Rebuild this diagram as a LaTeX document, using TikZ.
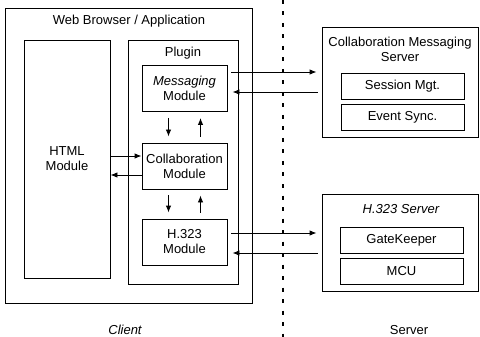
\documentclass[tikz,border=0pt]{standalone}
\usepackage{fontspec}
\setmainfont{Liberation Sans}
\usetikzlibrary{arrows,arrows.meta,calc}
\tikzset{
    block/.style = {draw, rectangle, line width=0.9pt, inner sep=0pt, align=center},
    module/.style = {block, minimum width=85pt, minimum height=46pt},
    part/.style = {block, minimum width=123pt, minimum height=26pt},
    heading/.style = {inner sep=0pt, align=center},
    arrow/.style = {draw, ->, line width=0.9pt},
    link/.style = {arrow, shorten >=5pt, shorten <=4pt},
    vlink/.style = {arrow, shorten >=6pt, shorten <=6pt},
    divider/.style = {draw, line width=1.1pt, dash pattern=on 4pt off 7.5pt}
}

\begin{document}
\begin{tikzpicture}[x=1pt, y=-1pt, >={Latex[length=7pt,width=5.5pt]}, every node/.style={font=\fontsize{13}{15}\selectfont}]
        \useasboundingbox (0,0) rectangle (480,337);
        \node [block, minimum width=247pt, minimum height=295pt] (browser) at (128.5,155.5) {};
        \node [heading] (browsertitle) at (129,21) {Web Browser / Application};
        \node [block, minimum width=86pt, minimum height=238pt] (html) at (67,159) {HTML\\Module};
        \node [block, minimum width=110pt, minimum height=244pt] (plugin) at (183,162) {};
        \node [heading] (plugintitle) at (183,53) {Plugin};
        \node [module] (msg) at (184.5,88.5) {{\itshape Messaging}\\Module};
        \node [module, below of=msg, node distance=77.5pt] (collab) {Collaboration\\Module};
        \node [module, below of=collab, node distance=76pt] (h323mod) {H.323\\Module};
        \draw [arrow] (html.east |- 0,156) -- (collab.west |- 0,156);
        \draw [arrow] (collab.west |- 0,175) -- (html.east |- 0,175);
        \draw [vlink] ([xshift=-16pt]msg.south) -- ([xshift=-16pt]collab.north);
        \draw [vlink] ([xshift=16pt]collab.north) -- ([xshift=16pt]msg.south);
        \draw [vlink] ([xshift=-16pt]collab.south) -- ([xshift=-16pt]h323mod.north);
        \draw [vlink] ([xshift=16pt]h323mod.north) -- ([xshift=16pt]collab.south);
        \node [block, minimum width=156pt, minimum height=110pt] (cms) at (400,82) {};
        \node [heading] (cmstitle) at (400,49.5) {Collaboration Messaging\\Server};
        \node [part] (session) at (402.5,86) {Session Mgt.};
        \node [part, below of=session, node distance=31pt] (eventsync) {Event Sync.};
        \node [block, minimum width=156pt, minimum height=97pt] (h323srv) at (400,242.5) {};
        \node [heading] (h323title) at (401,209) {\itshape H.323 Server};
        \node [part] (gk) at (401.5,240) {GateKeeper};
        \node [part, below of=gk, node distance=31pt] (mcu) {MCU};
        \draw [link] (msg.east |- 0,72) -- (cms.west |- 0,72);
        \draw [link] (cms.west |- 0,92) -- (msg.east |- 0,92);
        \draw [link] (h323mod.east |- 0,233) -- (h323srv.west |- 0,233);
        \draw [link] (h323srv.west |- 0,253) -- (h323mod.east |- 0,253);
        \coordinate (divtop) at (283,0);
        \coordinate (divbottom) at (283,337);
        \draw [divider] (divtop) -- (divbottom);
        \node (client) at (125,330) {\itshape Client};
        \node (server) at (409,330) {Server};
\end{tikzpicture}
\end{document}
